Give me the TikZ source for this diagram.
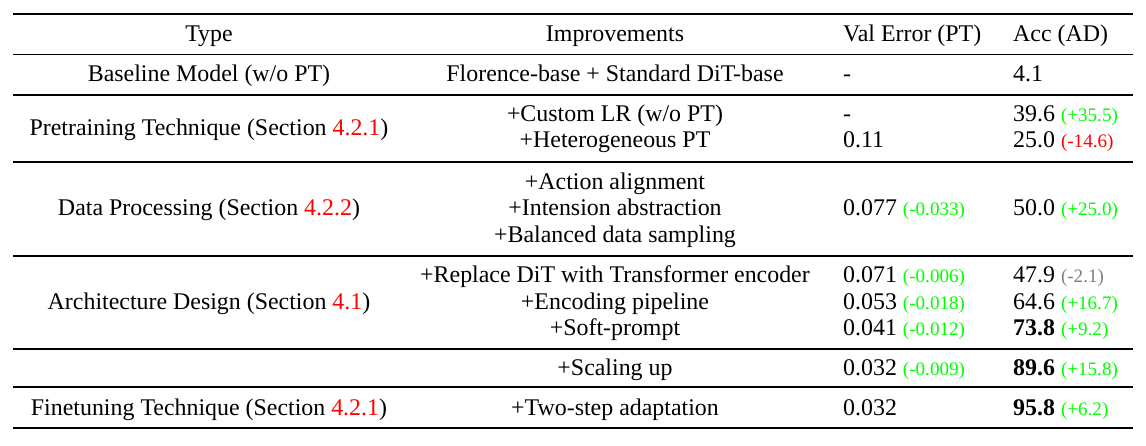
\documentclass[tikz,border=0pt]{standalone}
\usepackage{fontspec}
\setmainfont{Liberation Serif}
\newcommand{\mainsz}{\fontsize{23.9}{26.5}\selectfont}
\newcommand{\smsz}{\fontsize{19.1}{21}\selectfont}
\newcommand{\gup}[1]{{\smsz\textcolor{green}{#1}}}
\newcommand{\rdn}[1]{{\smsz\textcolor{red}{#1}}}
\newcommand{\gyn}[1]{{\smsz\textcolor{gray}{#1}}}
\newcommand{\rf}[1]{\textcolor{red}{#1}}
\begin{document}
\begin{tikzpicture}[x=1pt,y=-1pt,
  cell/.style={inner sep=0pt,anchor=base,font=\mainsz},
  lcell/.style={inner sep=0pt,anchor=base west,font=\mainsz},
  thick rule/.style={line width=2pt},
  thin rule/.style={line width=1.3pt}]
\useasboundingbox (0,0) rectangle (1146,446);
% rules
\coordinate (r0l) at (13,14.5); \coordinate (r0r) at (1133,14.5);
\coordinate (r1l) at (13,54.5); \coordinate (r1r) at (1133,54.5);
\coordinate (r2l) at (13,95);   \coordinate (r2r) at (1133,95);
\coordinate (r3l) at (13,162);  \coordinate (r3r) at (1133,162);
\coordinate (r4l) at (13,256);  \coordinate (r4r) at (1133,256);
\coordinate (r5l) at (13,349);  \coordinate (r5r) at (1133,349);
\coordinate (r6l) at (13,387);  \coordinate (r6r) at (1133,387);
\coordinate (r7l) at (13,428);  \coordinate (r7r) at (1133,428);
\draw[thick rule] (r0l) -- (r0r);
\draw[thin rule] (r1l) -- (r1r);
\draw[thin rule] (r2l) -- (r2r);
\draw[thin rule] (r3l) -- (r3r);
\draw[thin rule] (r4l) -- (r4r);
\draw[thin rule] (r5l) -- (r5r);
\draw[thin rule] (r6l) -- (r6r);
\draw[thick rule] (r7l) -- (r7r);
% header
\node[cell] (hType) at (209,41.7) {Type};
\node[cell] (hImp) at (615,41.7) {Improvements};
\node[lcell] (hVal) at (843,41.7) {Val Error (PT)};
\node[lcell] (hAcc) at (1013,41.7) {Acc (AD)};
% baseline
\node[cell] (t1) at (209,82) {Baseline Model (w/o PT)};
\node[cell] (i1) at (615,82) {Florence-base + Standard DiT-base};
\node[lcell] (v1) at (843,82) {-};
\node[lcell] (a1) at (1013,82) {4.1};
% pretraining
\node[cell] (t2) at (209,135.5) {Pretraining Technique (Section \rf{4.2.1})};
\node[cell] (i2a) at (615,122) {+Custom LR (w/o PT)};
\node[cell] (i2b) at (615,148) {+Heterogeneous PT};
\node[lcell] (v2a) at (843,122) {-};
\node[lcell] (v2b) at (843,148) {0.11};
\node[lcell] (a2a) at (1013,122) {39.6 \gup{(+35.5)}};
\node[lcell] (a2b) at (1013,148) {25.0 \rdn{(-14.6)}};
% data processing
\node[cell] (t3) at (209,216) {Data Processing (Section \rf{4.2.2})};
\node[cell] (i3a) at (615,189.5) {+Action alignment};
\node[cell] (i3b) at (615,216) {+Intension abstraction};
\node[cell] (i3c) at (615,242.5) {+Balanced data sampling};
\node[lcell] (v3) at (843,216) {0.077 \gup{(-0.033)}};
\node[lcell] (a3) at (1013,216) {50.0 \gup{(+25.0)}};
% architecture
\node[cell] (t4) at (209,309) {Architecture Design (Section \rf{4.1})};
\node[cell] (i4a) at (615,282.5) {+Replace DiT with Transformer encoder};
\node[cell] (i4b) at (615,309) {+Encoding pipeline};
\node[cell] (i4c) at (615,335.5) {+Soft-prompt};
\node[lcell] (v4a) at (843,282.5) {0.071 \gup{(-0.006)}};
\node[lcell] (v4b) at (843,309) {0.053 \gup{(-0.018)}};
\node[lcell] (v4c) at (843,335.5) {0.041 \gup{(-0.012)}};
\node[lcell] (a4a) at (1013,282.5) {47.9 \gyn{(-2.1)}};
\node[lcell] (a4b) at (1013,309) {64.6 \gup{(+16.7)}};
\node[lcell] (a4c) at (1013,335.5) {\textbf{73.8} \gup{(+9.2)}};
% scaling
\node[cell] (i5) at (615,375) {+Scaling up};
\node[lcell] (v5) at (843,375) {0.032 \gup{(-0.009)}};
\node[lcell] (a5) at (1013,375) {\textbf{89.6} \gup{(+15.8)}};
% finetuning
\node[cell] (t6) at (209,415) {Finetuning Technique (Section \rf{4.2.1})};
\node[cell] (i6) at (615,415) {+Two-step adaptation};
\node[lcell] (v6) at (843,415) {0.032};
\node[lcell] (a6) at (1013,415) {\textbf{95.8} \gup{(+6.2)}};
\end{tikzpicture}
\end{document}
